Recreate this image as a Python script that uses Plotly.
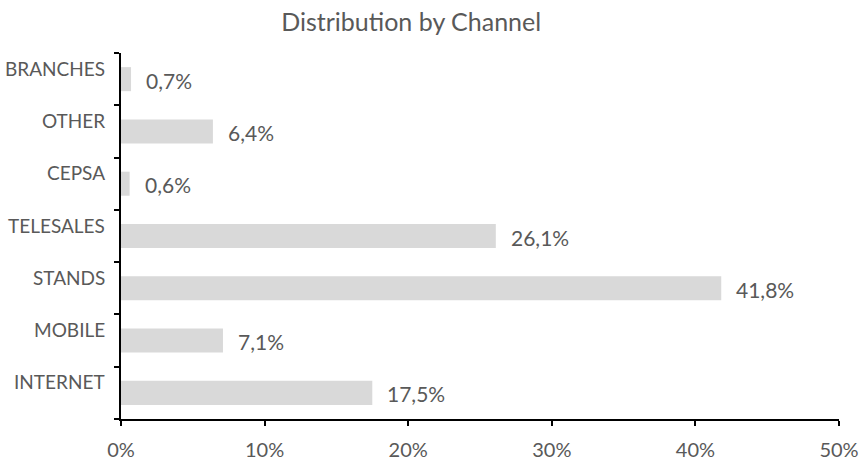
import plotly.graph_objects as go

categories = ["INTERNET", "MOBILE", "STANDS", "TELESALES", "CEPSA", "OTHER", "BRANCHES"]
values = [17.5, 7.1, 41.8, 26.1, 0.6, 6.4, 0.7]
x_ticks = [0, 10, 20, 30, 40, 50]
x_tick_labels = ["0%", "10%", "20%", "30%", "40%", "50%"]

FONT = "Lato, 'Open Sans', sans-serif"
GREY = "#595959"

fig = go.Figure()
fig.add_trace(go.Bar(
    x=values, y=categories, orientation="h",
    marker=dict(color="#d9d9d9", line=dict(width=0)),
    width=0.46, hoverinfo="skip",
))

annotations = []
for c, v in zip(categories, values):
    annotations.append(dict(
        x=v, y=c, xref="x", yref="y", text=f"{v:.1f}%".replace(".", ","),
        showarrow=False, xanchor="left", yanchor="middle", xshift=13, yshift=-1,
        font=dict(family=FONT, size=21, color=GREY),
    ))
    annotations.append(dict(
        x=0, y=c, xref="paper", yref="y", text=c,
        showarrow=False, xanchor="right", yanchor="middle", xshift=-14, yshift=11,
        font=dict(family=FONT, size=19, color=GREY),
    ))

fig.update_layout(
    width=862, height=463,
    margin=dict(l=121, r=23, t=53, b=44, autoexpand=False),
    paper_bgcolor="white", plot_bgcolor="white",
    showlegend=False,
    title=dict(text="Distribution by Channel", x=0.477, xanchor="center",
               y=0.952, yanchor="middle", xref="container", yref="container",
               font=dict(family=FONT, size=25, color=GREY)),
    annotations=annotations,
    xaxis=dict(range=[0, 50], tickvals=x_ticks, ticktext=x_tick_labels,
               showgrid=False, zeroline=False, showline=True, linecolor="black",
               linewidth=2, ticks="outside", ticklen=5, tickwidth=2, tickcolor="black",
               tickfont=dict(family=FONT, size=20, color=GREY), fixedrange=True,
               automargin=False, ticklabelstandoff=7),
    yaxis=dict(categoryorder="array", categoryarray=categories,
               range=[-0.5, 6.5], showgrid=False, zeroline=False, showline=True,
               linecolor="black", linewidth=2, ticks="outside", ticklen=5,
               tickwidth=2, tickcolor="black", tickson="boundaries",
               showticklabels=False, fixedrange=True, automargin=False),
)

fig.write_html("out.html", config={"displayModeBar": False},
               post_script="document.body.style.margin='0';document.body.style.overflow='hidden';")
